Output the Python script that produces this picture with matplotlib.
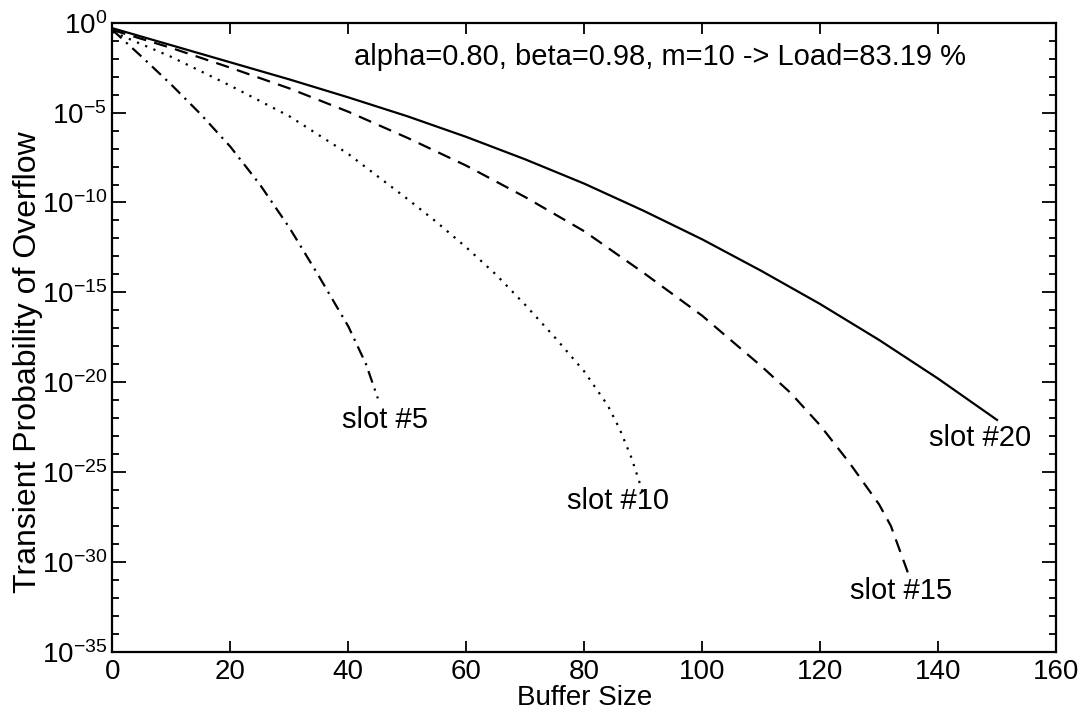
import numpy as np
import matplotlib
matplotlib.use("Agg")
import matplotlib.pyplot as plt
from matplotlib.ticker import FixedLocator, NullFormatter

plt.rcParams['font.family'] = ['Liberation Sans', 'DejaVu Sans']
plt.rcParams['mathtext.default'] = 'regular'

# buffer size / log10(probability)
x_slot5 = [0, 5, 10, 15, 20, 25, 30, 35, 40, 43, 45]
e_slot5 = [-0.4, -1.9, -3.45, -5.1, -6.9, -9.0, -11.4, -14.1, -16.9, -19.0, -20.9]

x_slot10 = [0, 10, 20, 30, 40, 50, 55, 60, 65, 70, 75, 80, 84, 86, 88, 90]
e_slot10 = [-0.5, -1.9, -3.5, -5.2, -7.3, -9.8, -11.1, -12.5, -14.0, -15.7,
            -17.5, -19.4, -21.3, -22.6, -24.2, -26.2]

x_slot15 = [0, 10, 20, 30, 40, 50, 60, 70, 80, 90, 100, 110, 115, 120, 125,
            130, 132, 134, 135]
e_slot15 = [-0.4, -1.4, -2.5, -3.65, -4.95, -6.4, -7.95, -9.7, -11.6, -13.9,
            -16.3, -19.1, -20.6, -22.4, -24.5, -26.8, -28.0, -29.8, -30.7]

x_slot20 = [0, 10, 20, 30, 40, 50, 60, 70, 80, 90, 100, 110, 120, 130, 140, 150]
e_slot20 = [-0.3, -1.25, -2.2, -3.15, -4.15, -5.2, -6.35, -7.6, -8.95, -10.45,
            -12.05, -13.8, -15.65, -17.65, -19.8, -22.1]

fig = plt.figure(figsize=(10.92, 7.13), dpi=100)
ax = fig.add_axes([0.103, 0.086, 0.864, 0.882])

ax.semilogy(x_slot20, np.power(10.0, e_slot20), color='black', lw=1.6, ls='-')
ax.semilogy(x_slot15, np.power(10.0, e_slot15), color='black', lw=1.6,
            ls=(0, (6.0, 3.8)))
ax.semilogy(x_slot10, np.power(10.0, e_slot10), color='black', lw=1.6,
            ls=(0, (1.0, 3.0)))
ax.semilogy(x_slot5, np.power(10.0, e_slot5), color='black', lw=1.6,
            ls=(0, (5.5, 2.8, 1.0, 2.8)))

# etiquetas de las curvas
fs = 21
ax.text(39.0, 10**-22.1, 'slot #5', fontsize=fs, ha='left', va='center')
ax.text(77.0, 10**-26.6, 'slot #10', fontsize=fs, ha='left', va='center')
ax.text(125.0, 10**-31.6, 'slot #15', fontsize=fs, ha='left', va='center')
ax.text(138.5, 10**-23.1, 'slot #20', fontsize=fs, ha='left', va='center')
ax.text(41.0, 10**-1.9, 'alpha=0.80, beta=0.98, m=10 -> Load=83.19 %',
        fontsize=fs, ha='left', va='center')

ax.set_xlim(0, 160)
ax.set_ylim(1e-35, 1e0)
ax.set_xticks(np.arange(0, 161, 20))
ax.yaxis.set_major_locator(FixedLocator([10.0**k for k in range(-35, 1, 5)]))
ax.yaxis.set_minor_locator(FixedLocator([10.0**k for k in range(-35, 1)]))
ax.yaxis.set_minor_formatter(NullFormatter())

ax.tick_params(which='both', direction='in', top=True, right=True,
               labelsize=20, width=1.3)
ax.tick_params(axis='x', which='major', length=8, pad=5)
ax.tick_params(axis='y', which='major', length=10, pad=4)
ax.tick_params(axis='y', which='minor', length=5)
for s in ax.spines.values():
    s.set_linewidth(1.6)

ax.set_xlabel('Buffer Size', fontsize=20, labelpad=0)
ax.set_ylabel('Transient Probability of Overflow', fontsize=23)
ax.yaxis.set_label_coords(-0.074, 0.46)

fig.savefig('out.png', dpi=100)
